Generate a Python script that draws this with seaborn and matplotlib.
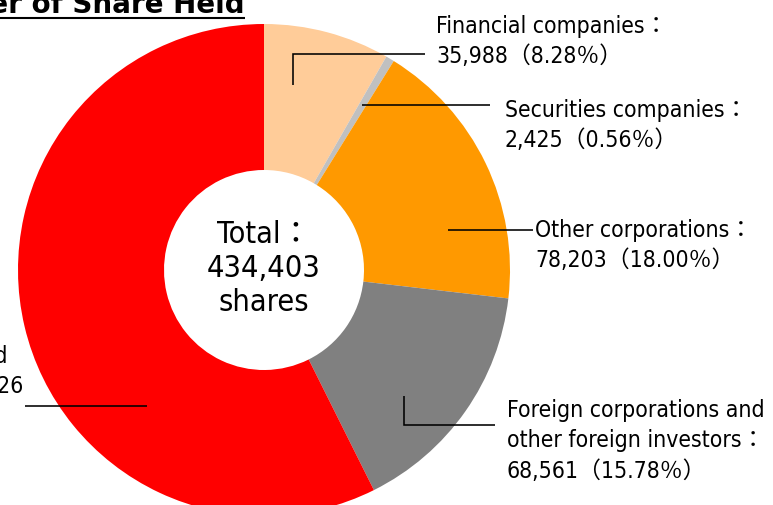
import numpy as np
import matplotlib
matplotlib.use("Agg")
import matplotlib.pyplot as plt
import seaborn as sns

# Shareholding by type of owner
categories = [
    "Financial companies",
    "Securities companies",
    "Other corporations",
    "Foreign corporations and other foreign investors",
    "Individuals and others",
]
shares = [35988, 2425, 78203, 68561, 249226]
percents = [8.28, 0.56, 18.00, 15.78, 57.38]
total_shares = 434403
palette = ["#FFCC99", "#C0C0C0", "#FF9900", "#808080", "#FF0000"]

title_text = "Distribution by Owner of Share Held"
label_templates = [
    "Financial companies：\n{n}（{p}）",
    "Securities companies：\n{n}（{p}）",
    "Other corporations：\n{n}（{p}）",
    "Foreign corporations and\nother foreign investors：\n{n}（{p}）",
    "Individuals and\nothers：{n}\n（{p}）",
]
center_lines = ["Total：", f"{total_shares:,}", "shares"]

sns.set_theme(style="white")
plt.rcParams["font.family"] = ["DejaVu Sans", "Noto Sans CJK JP"]

W, H = 773, 505
fig = plt.figure(figsize=(W / 100, H / 100), dpi=100)
ax = fig.add_axes([0, 0, 1, 1])


def fy(y):
    """Top-down pixel row -> axis y."""
    return H - y


cx, cy, R, hole = 264, fy(270), 246, 100
wedges, _ = ax.pie(
    shares,
    colors=palette,
    startangle=90,
    counterclock=False,
    center=(cx, cy),
    radius=R,
    wedgeprops=dict(width=R - hole, linewidth=0),
)
ax.set_xlim(0, W)
ax.set_ylim(0, H)
ax.axis("off")


def anchor(w, frac, rfrac):
    ang = np.deg2rad(w.theta2 - frac * (w.theta2 - w.theta1))
    r = rfrac * w.r
    return w.center[0] + r * np.cos(ang), w.center[1] + r * np.sin(ang)


# leader layout: position inside wedge, optional elbow row, end column
leaders = [
    dict(frac=0.30, r=0.76, elbow=54, end=425),
    dict(frac=0.50, r=0.78, elbow=None, end=490),
    dict(frac=0.71, r=0.765, elbow=None, end=533),
    dict(frac=0.62, r=0.766, elbow=425, end=495),
    dict(frac=0.325, r=0.73, elbow=None, end=25),
]
line_kw = dict(color="black", lw=1.15, solid_capstyle="butt", solid_joinstyle="miter")
for w, ld in zip(wedges, leaders):
    x0, y0 = anchor(w, ld["frac"], ld["r"])
    if ld["elbow"] is None:
        xs, ys = [x0, ld["end"]], [y0, y0]
    else:
        xs, ys = [x0, x0, ld["end"]], [y0, fy(ld["elbow"]), fy(ld["elbow"])]
    ax.plot(xs, ys, **line_kw)

label_font = dict(fontsize=16.5, fontstretch="condensed", color="black")
# left column, first baseline row, line step
text_pos = [(436, 33, 29.5), (505, 117, 29.5), (535, 237, 29.5), (507, 417, 30.5), (None, 363, 29.5)]

fig.canvas.draw()
renderer = fig.canvas.get_renderer()

for tmpl, n, p, (tx, ty, step) in zip(label_templates, shares, percents, text_pos):
    lines = tmpl.format(n=f"{n:,}", p=f"{p:.2f}％").split("\n")
    if tx is None:
        probe = ax.text(24, fy(ty + step), lines[1], ha="right", va="baseline", **label_font)
        bb = probe.get_window_extent(renderer)
        probe.remove()
        tx = bb.x0
    for i, ln in enumerate(lines):
        ax.text(tx, fy(ty + i * step), ln, ha="left", va="baseline", **label_font)

for i, ln in enumerate(center_lines):
    ax.text(cx, fy(243 + i * 34), ln, ha="center", va="baseline",
            fontsize=22, fontstretch="condensed", color="black")

title = ax.text(245, fy(13), title_text, ha="right", va="baseline",
                fontsize=20, fontweight="bold", color="black")
tb = title.get_window_extent(renderer)
ax.plot([tb.x0, tb.x1], [fy(18.3), fy(18.3)], color="black", lw=1.5, solid_capstyle="butt")

fig.savefig("out.png", dpi=100)
